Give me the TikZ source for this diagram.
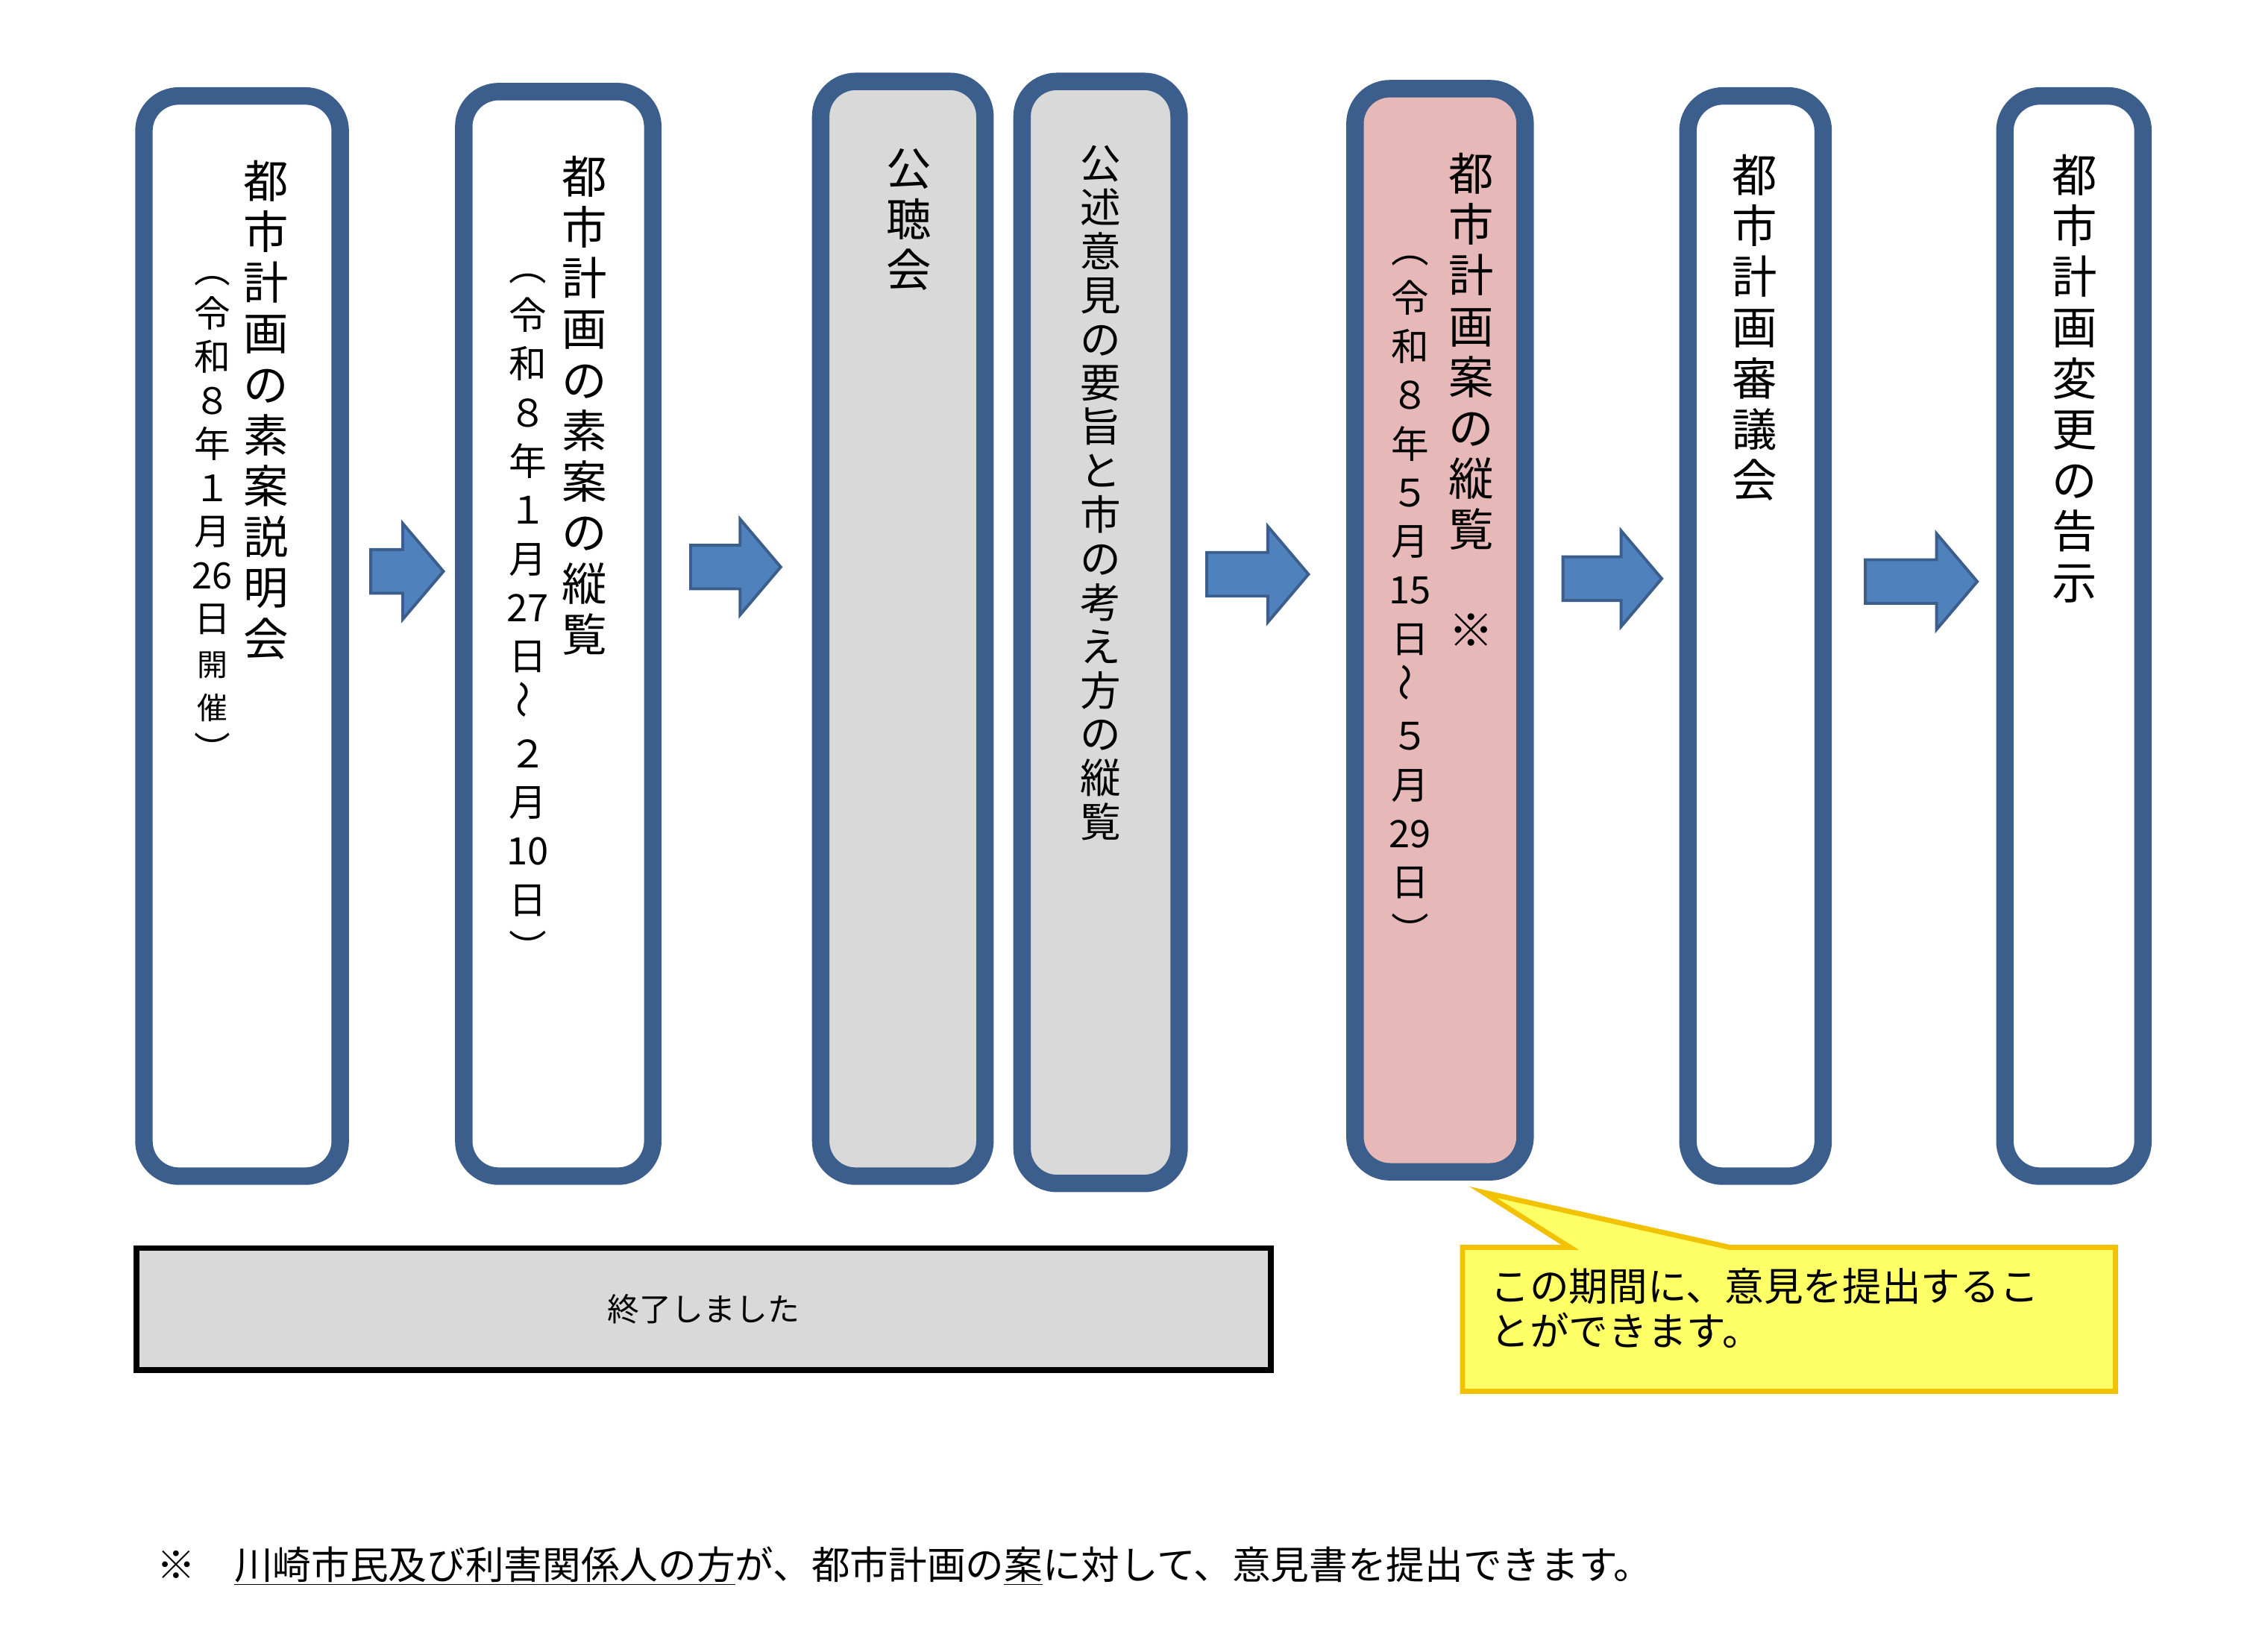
\documentclass[tikz,border=0pt]{standalone}
\usepackage{fontspec}
\setmainfont{Noto Sans CJK JP}
\definecolor{bd}{HTML}{3B5E8C}
\definecolor{arf}{HTML}{4F81BD}
\definecolor{gr}{HTML}{D9D9D9}
\definecolor{pk}{HTML}{E6B9B8}
\definecolor{yl}{HTML}{FFFF66}
\definecolor{yb}{HTML}{F2C200}
\newcommand{\tl}{\rotatebox{90}{～}}
\newcommand{\mkarrow}[3]{\filldraw[arr] (#1,#3-15) -- (#2-28,#3-15) -- (#2-28,#3-33) -- (#2,#3) -- (#2-28,#3+33) -- (#2-28,#3+15) -- (#1,#3+15) -- cycle;}
\begin{document}
\begin{tikzpicture}[x=1pt,y=-1pt,
  box/.style={draw=bd,line width=12pt,rounded corners=24pt,fill=white,inner sep=0},
  arr/.style={fill=arf,draw=bd,line width=2pt,line join=miter},
  big/.style={align=center,inner sep=0,anchor=north,font=\fontsize{31}{35}\selectfont},
  small/.style={align=center,inner sep=0,anchor=north,font=\fontsize{26}{33.5}\selectfont}]
\useasboundingbox[fill=white] (0,0) rectangle (1560,1132);
\node[box,minimum width=135,minimum height=743] (b1) at (166.5,437.5) {};
\node[box,minimum width=130,minimum height=746] (b2) at (384,436) {};
\node[box,fill=gr,minimum width=113,minimum height=753] (b3a) at (621,432.5) {};
\node[box,fill=gr,minimum width=108,minimum height=758] (b3b) at (757,435) {};
\node[box,fill=pk,minimum width=117,minimum height=745] (b4) at (990.5,433.5) {};
\node[box,minimum width=93,minimum height=743] (b5) at (1207.5,437.5) {};
\node[box,minimum width=95,minimum height=743] (b6) at (1426.5,437.5) {};
\mkarrow{255}{305}{393}
\mkarrow{475}{537}{390}
\mkarrow{830}{900}{395}
\mkarrow{1075}{1143}{398}
\mkarrow{1283}{1360}{400}
\node[big] (t1) at (183,110) {都\\市\\計\\画\\の\\素\\案\\説\\明\\会};
\node[small,font=\fontsize{25}{30}\selectfont] (s1) at (146,190) {︵\\令\\和\\８\\年\\１\\月\\26\\日\\{\fontsize{21}{26}\selectfont 開}\\{\fontsize{21}{26}\selectfont 催}\\︶};
\node[big] (t2) at (402,107) {都\\市\\計\\画\\の\\素\\案\\の\\縦\\覧};
\node[small] (s2) at (363,188) {︵\\令\\和\\８\\年\\１\\月\\27\\日\\\tl\\２\\月\\10\\日\\︶};
\node[big] (t3a) at (625,102) {公\\聴\\会};
\node[small,font=\fontsize{28}{30.2}\selectfont] (t3b) at (757,100) {公\\述\\意\\見\\の\\要\\旨\\と\\市\\の\\考\\え\\方\\の\\縦\\覧};
\node[big] (t4) at (1012,105) {都\\市\\計\\画\\案\\の\\縦\\覧};
\node[big] (k4) at (1012,422) {※};
\node[small] (s4) at (970,176) {︵\\令\\和\\８\\年\\５\\月\\15\\日\\\tl\\５\\月\\29\\日\\︶};
\node[big] (t5) at (1207,106) {都\\市\\計\\画\\審\\議\\会};
\node[big] (t6) at (1427,106) {都\\市\\計\\画\\変\\更\\の\\告\\示};
\node[draw=black,line width=4pt,fill=gr,minimum width=780,minimum height=84,inner sep=0,font=\fontsize{22}{26}\selectfont] (done) at (484,900.5) {終了しました};
\filldraw[fill=yl,draw=yb,line width=3.5pt] (1006,858) -- (1080,858) -- (1020,820) -- (1190,858) -- (1455,858) -- (1455,957) -- (1006,957) -- cycle;
\node[anchor=north west,align=left,inner sep=0,font=\fontsize{27}{31}\selectfont] (note) at (1025,872) {この期間に、意見を提出するこ\\とができます。};
\node[anchor=west,inner sep=0,font=\fontsize{26.5}{30}\selectfont] (foot) at (108,1077) {※\hspace{1em}\underline{川崎市民及び利害関係人の方}が、都市計画の\underline{案}に対して、意見書を提出できます。};
\end{tikzpicture}
\end{document}
